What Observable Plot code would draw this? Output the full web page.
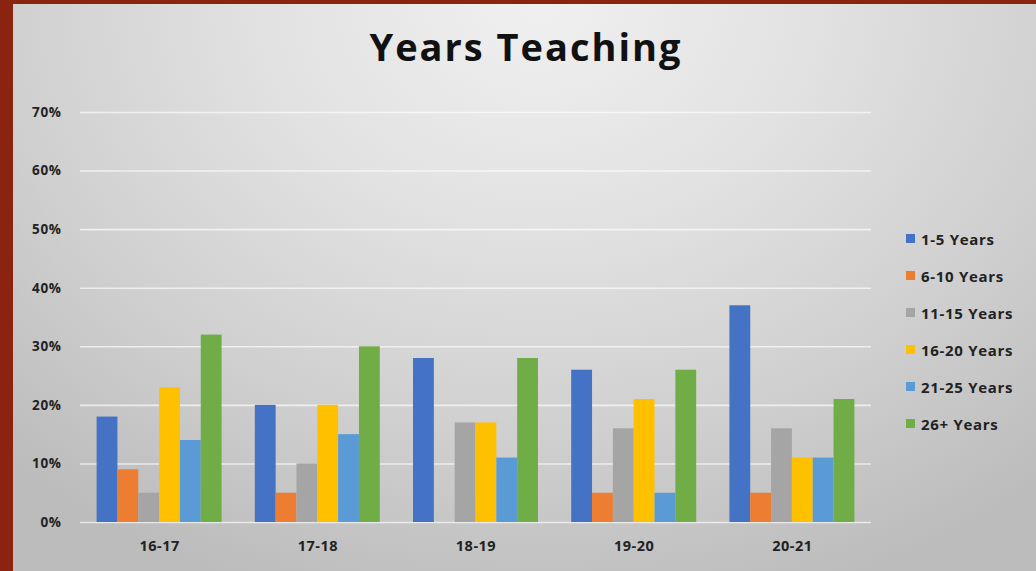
<!DOCTYPE html>
<html>
<head>
<meta charset="utf-8">
<script src="https://cdn.jsdelivr.net/npm/d3@7"></script>
<script src="https://cdn.jsdelivr.net/npm/@observablehq/plot@0.6"></script>
<style>
  html, body { margin: 0; padding: 0; }
  #chart {
    position: relative; width: 1036px; height: 571px; overflow: hidden;
    background: radial-gradient(ellipse 75% 110% at 52% 0%, #f0f0f0 0%, #e2e2e2 35%, #cfcfcf 70%, #bcbcbc 100%);
    font-family: "Open Sans", "DejaVu Sans", sans-serif;
  }
  .strip { position: absolute; background: #8b2311; }
  #title {
    position: absolute; left: 0; width: 1052px; top: 20px; text-align: center;
    font-size: 38px; font-weight: 700; color: #111; letter-spacing: 2px;
  }
  .layer { position: absolute; left: 0; top: 0; }
  #legend { position: absolute; left: 906px; top: 229px; }
  .item { height: 37px; display: flex; align-items: flex-start; font-size: 15px; font-weight: 700; color: #222; letter-spacing: 0.7px; }
  .sw { width: 9px; height: 9px; margin-right: 6px; margin-top: 5px; }
</style>
</head>
<body>
<div id="chart">
  <div id="gridLayer" class="layer"></div>
  <div id="barLayer" class="layer"></div>
  <div id="title">Years Teaching</div>
  <div id="legend"></div>
  <div class="strip" style="left:0;top:0;width:13px;height:571px"></div>
  <div class="strip" style="left:0;top:0;width:1036px;height:4px"></div>
</div>
<script>
const years = ["16-17", "17-18", "18-19", "19-20", "20-21"];
const series = ["1-5 Years", "6-10 Years", "11-15 Years", "16-20 Years", "21-25 Years", "26+ Years"];
const colors = ["#4472c4", "#ed7d31", "#a5a5a5", "#ffc000", "#5b9bd5", "#70ad47"];
const yTicks = [0, 0.1, 0.2, 0.3, 0.4, 0.5, 0.6, 0.7];

const v1to5   = [0.18, 0.20, 0.28, 0.26, 0.37];
const v6to10  = [0.09, 0.05, 0.00, 0.05, 0.05];
const v11to15 = [0.05, 0.10, 0.17, 0.16, 0.16];
const v16to20 = [0.23, 0.20, 0.17, 0.21, 0.11];
const v21to25 = [0.14, 0.15, 0.11, 0.05, 0.11];
const v26plus = [0.32, 0.30, 0.28, 0.26, 0.21];

const valueSets = [v1to5, v6to10, v11to15, v16to20, v21to25, v26plus];
const rows = [];
years.forEach((yr, i) => series.forEach((s, j) => rows.push({year: yr, series: s, value: valueSets[j][i]})));

const common = {
  width: 1036, height: 571,
  marginLeft: 80, marginRight: 165, marginTop: 112, marginBottom: 49,
  style: {background: "transparent", fontFamily: "'Open Sans', sans-serif", fontSize: "13.5px", fontWeight: "700", color: "#222", overflow: "visible", letterSpacing: "0.6px"}
};

const gridPlot = Plot.plot({
  ...common,
  y: {domain: [0, 0.7], ticks: yTicks, tickFormat: d3.format(".0%"), tickSize: 0, tickPadding: 19, label: null},
  marks: [
    Plot.ruleY(yTicks, {stroke: "#ffffff", strokeWidth: 1.6, strokeOpacity: 0.65})
  ]
});
document.getElementById("gridLayer").appendChild(gridPlot);

const barPlot = Plot.plot({
  ...common,
  style: {...common.style, fontSize: "14.5px", letterSpacing: "0.5px"},
  facet: {data: rows, x: "year"},
  fx: {domain: years, paddingInner: 0.21, paddingOuter: 0.105, round: false, axis: "bottom", label: null, tickSize: 0, tickPadding: 18},
  x: {domain: series, padding: 0, round: false, axis: null},
  y: {domain: [0, 0.7], axis: null},
  color: {domain: series, range: colors},
  marks: [
    Plot.barY(rows, {x: "series", y: "value", fill: "series", insetLeft: 0, insetRight: 0})
  ]
});
document.getElementById("barLayer").appendChild(barPlot);

const legend = document.getElementById("legend");
series.forEach((s, j) => {
  const it = document.createElement("div");
  it.className = "item";
  const sw = document.createElement("div");
  sw.className = "sw";
  sw.style.background = colors[j];
  const tx = document.createElement("span");
  tx.textContent = s;
  it.appendChild(sw); it.appendChild(tx);
  legend.appendChild(it);
});
</script>
</body>
</html>
